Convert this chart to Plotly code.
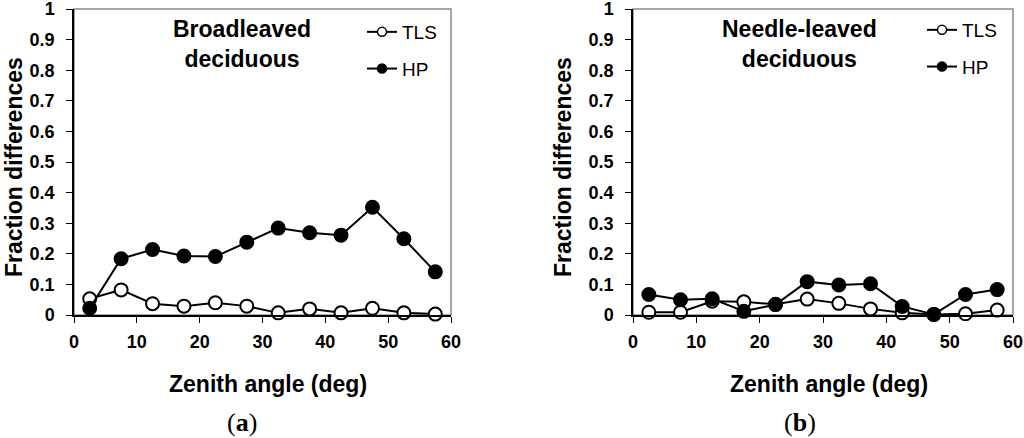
import plotly.graph_objects as go

# ---- data ----
zenith = [2.5, 7.5, 12.5, 17.5, 22.5, 27.5, 32.5, 37.5, 42.5, 47.5, 52.5, 57.5]

broad_tls = [0.053, 0.082, 0.037, 0.029, 0.040, 0.029, 0.007, 0.020, 0.007, 0.022, 0.007, 0.003]
broad_hp = [0.022, 0.184, 0.214, 0.193, 0.191, 0.238, 0.284, 0.269, 0.261, 0.352, 0.249, 0.141]

needle_tls = [0.009, 0.009, 0.045, 0.043, 0.035, 0.052, 0.038, 0.020, 0.007, 0.002, 0.004, 0.016]
needle_hp = [0.067, 0.050, 0.053, 0.012, 0.034, 0.109, 0.098, 0.102, 0.028, 0.002, 0.067, 0.083]

panel_titles = ["Broadleaved<br>deciduous", "Needle-leaved<br>deciduous"]
panel_labels = ["(<b>a</b>)", "(<b>b</b>)"]
series_names = ["TLS", "HP"]
x_title = "Zenith angle (deg)"
y_title = "Fraction differences"

FONT = "Arial, Liberation Sans, sans-serif"
SERIF = "Times New Roman, Liberation Serif, serif"

W, H = 1024, 438


def px(x):  # page pixel -> paper x
    return x / W


def py(y):  # page pixel -> paper y
    return 1 - y / H


fig = go.Figure()

panels = [
    dict(tls=broad_tls, hp=broad_hp, xa="x", ya="y", legend="legend"),
    dict(tls=needle_tls, hp=needle_hp, xa="x2", ya="y2", legend="legend2"),
]

for i, p in enumerate(panels):
    for name, vals, fill in [(series_names[0], p["tls"], "white"),
                             (series_names[1], p["hp"], "black")]:
        fig.add_trace(go.Scatter(
            x=zenith, y=vals, name=name, mode="lines+markers",
            xaxis=p["xa"], yaxis=p["ya"], showlegend=False,
            line=dict(color="black", width=2),
            marker=dict(symbol="circle", size=13, color=fill,
                        line=dict(color="black", width=2)),
            cliponaxis=False,
        ))
        # legend entry (smaller marker, as in the original key)
        fig.add_trace(go.Scatter(
            x=[None], y=[None], name=name, mode="lines+markers",
            xaxis=p["xa"], yaxis=p["ya"], legend=p["legend"],
            legendgroup=f"{name}{i}",
            line=dict(color="black", width=2),
            marker=dict(symbol="circle", size=9, color=fill,
                        line=dict(color="black", width=1.5)),
        ))

xdoms = [[px(74), px(451)], [px(633), px(1013)]]
ydom = [py(315), py(9)]

axis_common = dict(
    showgrid=False, zeroline=False, showline=True, linecolor="black", linewidth=1.5,
    ticks="outside", ticklen=6, tickcolor="black", tickwidth=1.2,
    ticklabeloverflow="allow", automargin=False,
    tickfont=dict(family=FONT, size=18, color="black", weight="bold"),
)

legend_common = dict(
    xanchor="left", yanchor="top", bgcolor="rgba(0,0,0,0)", borderwidth=0,
    tracegroupgap=9, traceorder="grouped",
    font=dict(family=FONT, size=19, color="black"),
)

layout = dict(
    width=W, height=H,
    margin=dict(l=0, r=0, t=0, b=0, pad=0, autoexpand=False),
    paper_bgcolor="white", plot_bgcolor="white",
    showlegend=True,
    xaxis=dict(domain=xdoms[0], range=[0, 60], dtick=10, anchor="y",
               ticklabelstandoff=4, **axis_common),
    yaxis=dict(domain=ydom, range=[0, 1], dtick=0.1, anchor="x",
               ticklabelstandoff=8, **axis_common),
    xaxis2=dict(domain=xdoms[1], range=[0, 60], dtick=10, anchor="y2",
                ticklabelstandoff=4, **axis_common),
    yaxis2=dict(domain=ydom, range=[0, 1], dtick=0.1, anchor="x2",
                ticklabelstandoff=8, **axis_common),
    legend=dict(x=px(362), y=py(13), **legend_common),
    legend2=dict(x=px(922), y=py(11), **legend_common),
)
fig.update_layout(**layout)

# gray plot-area frames
for xa, ya in [("x", "y"), ("x2", "y2")]:
    fig.add_shape(type="rect", xref=f"{xa} domain", yref=f"{ya} domain",
                  x0=0, x1=1, y0=0, y1=1, line=dict(color="#8a8a8a", width=1.5),
                  layer="below")

annotations = []
title_x = [242, 799]
xtitle_x = [268, 829]
label_x = [242, 800]
ytitle_x = [14, 563]
for i in range(2):
    annotations.append(dict(
        text=f"<b>{panel_titles[i]}</b>", x=px(title_x[i]), y=py(44),
        xref="paper", yref="paper", xanchor="center", yanchor="middle",
        showarrow=False, font=dict(family=FONT, size=23, color="black")))
    annotations.append(dict(
        text=f"<b>{x_title}</b>", x=px(xtitle_x[i]), y=py(384),
        xref="paper", yref="paper", xanchor="center", yanchor="middle",
        showarrow=False, font=dict(family=FONT, size=23, color="black")))
    annotations.append(dict(
        text=panel_labels[i], x=px(label_x[i]), y=py(422),
        xref="paper", yref="paper", xanchor="center", yanchor="middle",
        showarrow=False, font=dict(family=SERIF, size=26, color="black")))
    annotations.append(dict(
        text=f"<b>{y_title}</b>", x=px(ytitle_x[i]), y=py(167),
        xref="paper", yref="paper", xanchor="center", yanchor="middle",
        textangle=-90, showarrow=False,
        font=dict(family=FONT, size=23, color="black")))
fig.update_layout(annotations=annotations)

fig.write_html(
    "out.html",
    config={"displayModeBar": False},
    post_script="document.body.style.margin='0';document.body.style.padding='0';",
)
